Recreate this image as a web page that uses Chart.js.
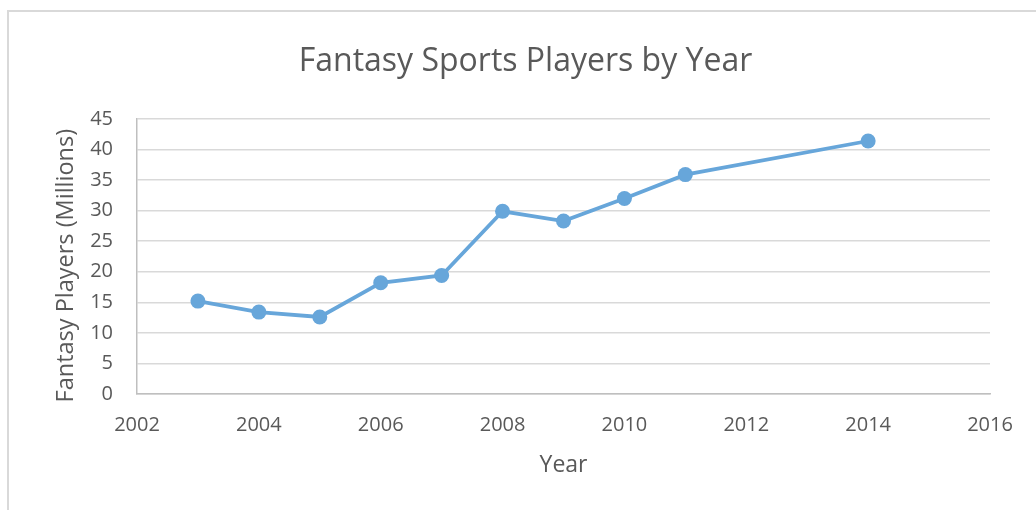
<!DOCTYPE html>
<html>
<head>
<meta charset="utf-8">
<script src="https://cdn.jsdelivr.net/npm/chart.js@4.4.0/dist/chart.umd.min.js"></script>
<style>
  body { margin: 0; background: #fff; overflow: hidden; }
  #wrap { position: relative; width: 1036px; height: 510px; }
  #frame { position: absolute; left: 7px; top: 10px; width: 1100px; height: 600px;
           border-top: 2px solid #d9d9d9; border-left: 2px solid #d9d9d9; box-sizing: border-box; }
  canvas { position: absolute; left: 0; top: 0; }
</style>
</head>
<body>
<div id="wrap">
  <div id="frame"></div>
  <canvas id="myChart" width="1036" height="510"></canvas>
</div>
<script>
// data
const years = [2003, 2004, 2005, 2006, 2007, 2008, 2009, 2010, 2011, 2014];
const players = [15.2, 13.4, 12.6, 18.2, 19.4, 29.9, 28.3, 32.0, 35.9, 41.4];
const xTicks = [2002, 2004, 2006, 2008, 2010, 2012, 2014, 2016];
const yTicks = [0, 5, 10, 15, 20, 25, 30, 35, 40, 45];

const titleText = 'Fantasy Sports Players by Year';
const xTitle = 'Year';
const yTitle = 'Fantasy Players (Millions)   ';  // trailing spaces nudge it down a bit

const blue = '#67a6da';
const textGrey = '#595959';
const fontName = "'Open Sans', 'Noto Sans', sans-serif";

var points = [];
for (let i = 0; i < years.length; i++) {
    points.push({x: years[i], y: players[i]});
}

var ctx = document.getElementById("myChart").getContext("2d");
window.myChart = new Chart(ctx, {
    type: 'line',
    data: {
        datasets: [{
            label: 'Players',
            data: points,
            borderColor: blue,
            backgroundColor: blue,
            borderWidth: 3.8,
            pointRadius: 7.5,
            pointHoverRadius: 7.5,
            pointBorderWidth: 0,
            pointBackgroundColor: blue,
            tension: 0
        }]
    },
    options: {
        responsive: false,
        animation: false,
        layout: { padding: { left: 15, right: 0, top: 0, bottom: 0 } },
        plugins: {
            legend: { display: false },
            tooltip: { enabled: false },
            title: {
                display: true,
                text: titleText,
                color: textGrey,
                font: { family: fontName, size: 32, weight: 'normal' },
                padding: { top: 43, bottom: 37.6 }
            }
        },
        scales: {
            x: {
                type: 'linear',
                min: xTicks[0],
                max: xTicks[xTicks.length - 1],
                afterBuildTicks: axis => { axis.ticks = xTicks.map(v => ({value: v})); },
                afterFit: axis => { axis.height = 116; },
                grid: { display: false, drawTicks: false },
                border: { display: true, color: '#bfbfbf', width: 1.5 },
                ticks: {
                    color: textGrey,
                    padding: 19,
                    maxRotation: 0,
                    font: { family: fontName, size: 20 },
                    callback: v => String(v)
                },
                title: {
                    display: true,
                    text: xTitle,
                    color: textGrey,
                    font: { family: fontName, size: 23 },
                    padding: { top: 0, bottom: 31 }
                }
            },
            y: {
                min: yTicks[0],
                max: yTicks[yTicks.length - 1],
                afterBuildTicks: axis => { axis.ticks = yTicks.map(v => ({value: v})); },
                afterFit: axis => { axis.width = 122; },
                grid: { color: '#d9d9d9', lineWidth: 1.5, drawTicks: false },
                border: { display: true, color: '#bfbfbf', width: 1.5 },
                ticks: {
                    color: textGrey,
                    padding: 24,
                    font: { family: fontName, size: 20 }
                },
                title: {
                    display: true,
                    text: yTitle,
                    color: textGrey,
                    font: { family: fontName, size: 23.5 },
                    padding: { top: 37, bottom: 0 }
                }
            },
            // empty right side so the plot ends where the reference does
            yRight: {
                position: 'right',
                afterFit: axis => { axis.width = 46; },
                grid: { display: false, drawTicks: false },
                border: { display: false },
                ticks: { display: false }
            }
        }
    }
});
</script>
</body>
</html>
